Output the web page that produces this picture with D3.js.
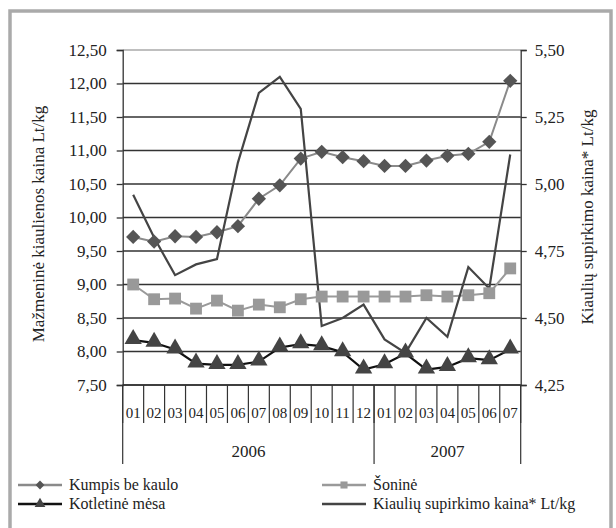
<!DOCTYPE html>
<html>
<head>
<meta charset="utf-8">
<script src="https://cdn.jsdelivr.net/npm/d3@7"></script>
<style>
  body { margin: 0; background: #fff; }
  text { font-family: "Liberation Serif", "DejaVu Serif", serif; fill: #222; }
</style>
</head>
<body>
<script>
// months 2006-01 .. 2007-07
var months = ['01','02','03','04','05','06','07','08','09','10','11','12','01','02','03','04','05','06','07'];
var years = [{label: '2006', from: 0, to: 12}, {label: '2007', from: 12, to: 19}];
var kumpis = [9.71, 9.64, 9.72, 9.71, 9.78, 9.87, 10.28, 10.48, 10.88, 10.98, 10.90, 10.84, 10.77, 10.77, 10.85, 10.92, 10.95, 11.13, 12.04];
var sonine = [9.00, 8.78, 8.79, 8.64, 8.76, 8.61, 8.70, 8.66, 8.78, 8.82, 8.82, 8.82, 8.82, 8.82, 8.84, 8.82, 8.84, 8.87, 9.24];
var kotletine = [8.17, 8.13, 8.03, 7.82, 7.80, 7.80, 7.85, 8.06, 8.11, 8.08, 7.99, 7.73, 7.81, 7.97, 7.73, 7.77, 7.90, 7.87, 8.03];
var supirkimo = [4.96, 4.80, 4.66, 4.70, 4.72, 5.08, 5.34, 5.40, 5.28, 4.47, 4.50, 4.55, 4.42, 4.37, 4.50, 4.43, 4.69, 4.61, 5.11];
var leftTicks = [7.5, 8, 8.5, 9, 9.5, 10, 10.5, 11, 11.5, 12, 12.5];
var rightTicks = [4.25, 4.5, 4.75, 5, 5.25, 5.5];

var width = 616, height = 528;
var plotLeft = 122.7, plotRight = 520.7, plotTop = 50, plotBottom = 385;
var fmt2 = d => d.toFixed(2).replace('.', ',');

var svg = d3.select('body').append('svg').attr('width', width).attr('height', height);

// frame
svg.append('rect').attr('x', 10).attr('y', 11).attr('width', 601).attr('height', 530)
   .attr('fill', 'none').attr('stroke', '#aaa').attr('stroke-width', 3.5);

var x = d3.scaleBand().domain(d3.range(months.length)).range([plotLeft, plotRight]);
var y = d3.scaleLinear().domain([7.5, 12.5]).range([plotBottom, plotTop]);
var y2 = d3.scaleLinear().domain([4.25, 5.5]).range([plotBottom, plotTop]);
var cx = i => x(i) + x.bandwidth() / 2;

// gridlines
svg.append('g').selectAll('line').data(leftTicks).enter().append('line')
   .attr('x1', plotLeft).attr('x2', plotRight)
   .attr('y1', d => y(d)).attr('y2', d => y(d))
   .attr('stroke', d => d == 12.5 ? '#aaa' : '#333').attr('stroke-width', 1.3);

// left axis
var gl = svg.append('g').attr('transform', 'translate(' + plotLeft + ',0)')
   .call(d3.axisLeft(y).tickValues(leftTicks).tickFormat(fmt2).tickSize(6).tickPadding(10));
gl.select('.domain').attr('stroke', '#333').attr('stroke-width', 1.3);
gl.selectAll('.tick line').attr('stroke', '#333').attr('stroke-width', 1.3);
gl.selectAll('text').style('font-size', '17px').style('font-family', '"Liberation Serif", serif').attr('fill', '#333');

// right axis
var gr = svg.append('g').attr('transform', 'translate(' + plotRight + ',0)')
   .call(d3.axisRight(y2).tickValues(rightTicks).tickFormat(fmt2).tickSize(6).tickPadding(8));
gr.select('.domain').attr('stroke', '#333').attr('stroke-width', 1.3);
gr.selectAll('.tick line').attr('stroke', '#333').attr('stroke-width', 1.3);
gr.selectAll('text').style('font-size', '17px').style('font-family', '"Liberation Serif", serif').attr('fill', '#333');

// bottom axis line
svg.append('line').attr('x1', plotLeft).attr('x2', plotRight).attr('y1', plotBottom).attr('y2', plotBottom)
   .attr('stroke', '#333').attr('stroke-width', 1.3);

// month separators and labels
svg.append('g').selectAll('line').data(d3.range(months.length + 1)).enter().append('line')
   .attr('x1', i => plotLeft + i * x.step()).attr('x2', i => plotLeft + i * x.step())
   .attr('y1', plotBottom).attr('y2', 423)
   .attr('stroke', '#333').attr('stroke-width', 1.2);
svg.append('g').selectAll('text').data(months).enter().append('text')
   .attr('x', (d, i) => cx(i)).attr('y', 418)
   .attr('text-anchor', 'middle').style('font-size', '15px').attr('fill', '#333')
   .text(d => d);

// year separators and labels
var yearEdges = [0, 12, 19];
svg.append('g').selectAll('line').data(yearEdges).enter().append('line')
   .attr('x1', i => plotLeft + i * x.step()).attr('x2', i => plotLeft + i * x.step())
   .attr('y1', plotBottom).attr('y2', 464)
   .attr('stroke', '#333').attr('stroke-width', 1.2);
svg.append('g').selectAll('text').data(years).enter().append('text')
   .attr('x', d => plotLeft + (d.from + d.to) / 2 * x.step()).attr('y', 457)
   .attr('text-anchor', 'middle').style('font-size', '17px').attr('fill', '#333')
   .text(d => d.label);

// axis titles
svg.append('text').attr('transform', 'translate(44,224) rotate(-90)')
   .attr('text-anchor', 'middle').style('font-size', '17px').attr('fill', '#333')
   .text('Mažmeninė kiaulienos kaina Lt/kg');
svg.append('text').attr('transform', 'translate(593,217) rotate(-90)')
   .attr('text-anchor', 'middle').style('font-size', '17px').attr('fill', '#333')
   .text('Kiaulių supirkimo kaina* Lt/kg');

// series
var line = d3.line().x((d, i) => cx(i)).y(d => y(d));
var line2 = d3.line().x((d, i) => cx(i)).y(d => y2(d));

svg.append('path').attr('d', line(kumpis)).attr('fill', 'none').attr('stroke', '#8a8a8a').attr('stroke-width', 2);
svg.append('path').attr('d', line(sonine)).attr('fill', 'none').attr('stroke', '#9a9a9a').attr('stroke-width', 2);
svg.append('path').attr('d', line(kotletine)).attr('fill', 'none').attr('stroke', '#111').attr('stroke-width', 2.2);
svg.append('path').attr('d', line2(supirkimo)).attr('fill', 'none').attr('stroke', '#444').attr('stroke-width', 2.2);

var diamond = d3.symbol().type(d3.symbolDiamond2).size(130);
var square = d3.symbol().type(d3.symbolSquare).size(140);
var triangle = d3.symbol().type(d3.symbolTriangle).size(130);

svg.append('g').selectAll('path').data(kumpis).enter().append('path')
   .attr('d', diamond).attr('transform', (d, i) => 'translate(' + cx(i) + ',' + y(d) + ')')
   .attr('fill', '#555');
svg.append('g').selectAll('path').data(sonine).enter().append('path')
   .attr('d', square).attr('transform', (d, i) => 'translate(' + cx(i) + ',' + y(d) + ')')
   .attr('fill', '#999');
svg.append('g').selectAll('path').data(kotletine).enter().append('path')
   .attr('d', triangle).attr('transform', (d, i) => 'translate(' + cx(i) + ',' + (y(d) - 1) + ')')
   .attr('fill', '#444');

// legend
var legend = [
  {label: 'Kumpis be kaulo', x: 18, y: 485, stroke: '#8a8a8a', sym: d3.symbolDiamond2, fill: '#555'},
  {label: 'Kotletinė mėsa', x: 18, y: 504, stroke: '#111', sym: d3.symbolTriangle, fill: '#444'},
  {label: 'Šoninė', x: 322, y: 485, stroke: '#9a9a9a', sym: d3.symbolSquare, fill: '#999'},
  {label: 'Kiaulių supirkimo kaina* Lt/kg', x: 322, y: 504, stroke: '#444', sym: null}
];
var lg = svg.append('g').selectAll('g').data(legend).enter().append('g')
   .attr('transform', d => 'translate(' + d.x + ',' + d.y + ')');
lg.append('line').attr('x1', 0).attr('x2', 44).attr('y1', 0).attr('y2', 0)
   .attr('stroke', d => d.stroke).attr('stroke-width', 2.5);
lg.filter(d => d.sym).append('path')
   .attr('d', d => d3.symbol().type(d.sym).size(50)())
   .attr('transform', 'translate(22,0)').attr('fill', d => d.fill);
lg.append('text').attr('x', 51).attr('y', 5).style('font-size', '16px').attr('fill', '#333')
   .text(d => d.label);
</script>
</body>
</html>
